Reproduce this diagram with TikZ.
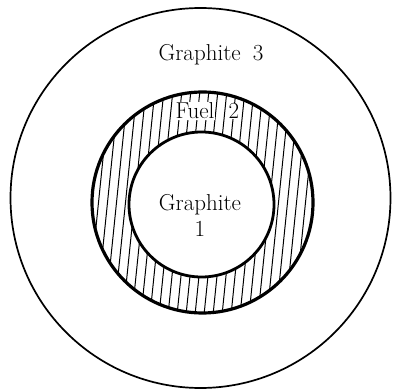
\documentclass[tikz,border=0pt]{standalone}
\begin{document}
\begin{tikzpicture}[x=1pt,y=-1pt,
  lbl/.style={font=\fontsize{23}{26}\selectfont, inner sep=0.5pt},
  hatchline/.style={line width=1pt}]
\useasboundingbox (0,0) rectangle (394,390);
\fill[white] (0,0) rectangle (394,390);
\coordinate (co) at (200.5,198);
\coordinate (cm) at (202.5,202.5);
\coordinate (ci) at (201.5,204.5);
% hatching in the annulus
\begin{scope}[even odd rule]
  \clip (cm) circle[radius=111] (ci) circle[radius=73];
  \foreach \x in {-140,-131,...,140} {
    \draw[hatchline] ([xshift=\x+12]cm |- 0,85) -- ([xshift=\x-12]cm |- 0,320);
  }
\end{scope}
\draw[line width=1.7pt] (co) circle[radius=190];
\draw[line width=3.2pt] (cm) circle[radius=110.5];
\draw[line width=2.8pt] (ci) circle[radius=72.5];
\node[lbl] (g3) at (211,55) {Graphite\hspace{12pt}3};
\node[lbl, fill=white] (fuel) at (195,111) {Fuel};
\node[lbl, fill=white] (two) at (234,111) {2};
\node[lbl, align=center] (g1) at (200,215) {Graphite\\1};
\end{tikzpicture}
\end{document}
